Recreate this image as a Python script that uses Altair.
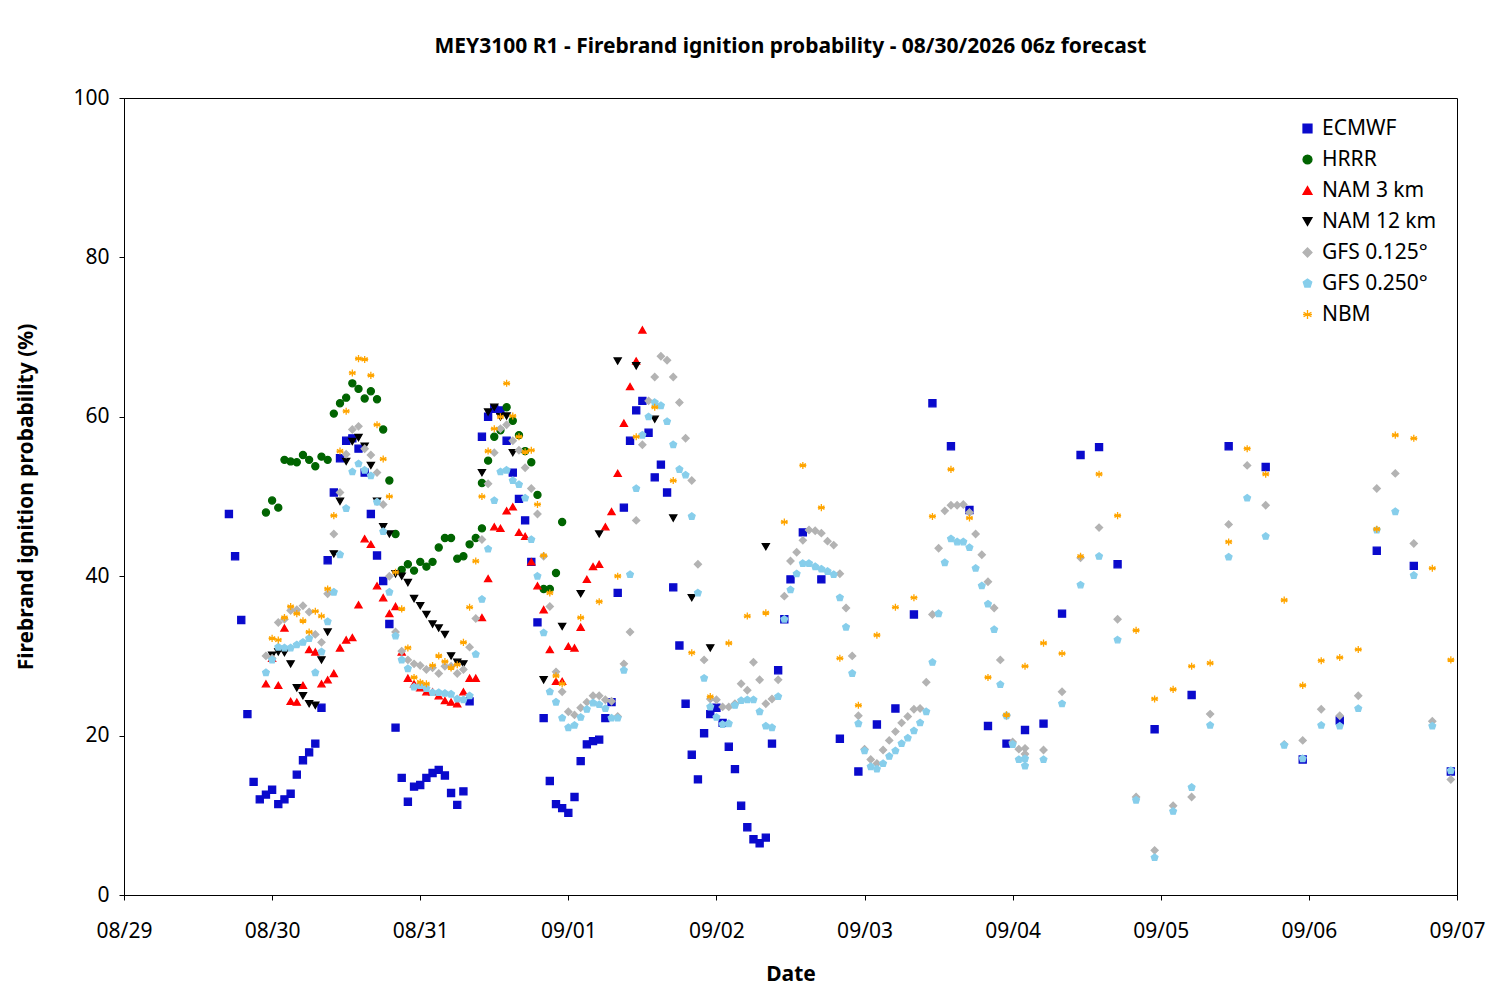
import pandas as pd
import altair as alt

# hourly series: (first hour after 08/29 00z, values); sparse series: hours on a 3-hourly grid
ecmwf_h1 = (17, [47.8, 42.5, 34.5, 22.7, 14.2, 12, 12.6, 13.2, 11.4, 12, 12.7, 15.1, 16.9, 17.9, 19, 23.5,
                 42, 50.5, 54.8, 57, 57.3, 56, 53, 47.8, 42.6, 39.4, 34, 21, 14.7, 11.7, 13.6, 13.8, 14.7,
                 15.3, 15.7, 15, 12.8, 11.3, 13, 24.3])
ecmwf_h2 = (58, [57.5, 60, 61, 60.8, 57, 53, 49.7, 47, 41.8, 34.2, 22.2, 14.3, 11.4, 10.9, 10.3, 12.3, 16.8,
                 18.9, 19.3, 19.5])
ecmwf_h3 = (78, [22.2, 24.2, 37.9, 48.6, 57, 60.8, 62, 58, 52.4, 54, 50.5, 38.6, 31.3, 24, 17.6, 14.5, 20.3,
                 22.7, 23.5, 21.6, 18.6, 15.8, 11.2, 8.5, 7, 6.5, 7.2, 19, 28.2, 34.6, 39.6])
ecmwf_sparse_hours = [110, 113, 116, 119, 122, 125, 128, 131, 134, 137, 140, 143, 146, 149, 152, 155, 158,
                      161, 167, 173, 179, 185, 191, 197, 203, 209, 215]
ecmwf_sparse = [45.5, 39.6, 19.6, 15.5, 21.4, 23.4, 35.2, 61.7, 56.3, 48.3, 21.2, 19, 20.7, 21.5, 35.3, 55.2,
                56.2, 41.5, 20.8, 25.1, 56.3, 53.7, 17, 21.9, 43.2, 41.3, 15.5]

hrrr_h1 = (23, [48, 49.5, 48.6, 54.6, 54.4, 54.3, 55.2, 54.6, 53.8, 55, 54.6, 60.4, 61.7, 62.4, 64.2, 63.5,
                62.3, 63.2, 62.2, 58.4, 52, 45.3, 40.8, 41.5, 40.7, 41.8, 41.2, 41.8, 43.6, 44.8, 44.8, 42.2,
                42.5, 44, 44.8, 46])
hrrr_h2 = (58, [51.7, 54.5, 57.5, 58.3, 61.2, 59.5, 57.7, 55.7, 54.3, 50.2, 38.4, 38.4, 40.4, 46.8])

nam3_h = (23, [26.5, 29.7, 26.3, 33.5, 24.3, 24.2, 26.3, 30.8, 30.5, 26.5, 27, 27.8, 31, 32, 32.3, 36.4, 44.7,
               44, 38.8, 37.3, 35.3, 36.2, 30.5, 27.2, 26.5, 26, 25.5, 25.5, 25, 24.4, 24.2, 24, 25.5, 27.2,
               27.2, 34.8, 39.7, 46.2, 46, 48.2, 48.7, 45.5, 45, 41.8, 38.8, 35.8, 30.8, 26.8, 26.8, 31.2, 31,
               33.6, 39.6, 41.2, 41.5, 46.2, 48.1, 52.9, 59.2, 63.8, 67, 70.9])

nam12_h1 = (24, [30.1, 30.5, 30.4, 29, 26, 25, 24, 23.8, 29.5, 33, 42.8, 49.4, 54.4, 56.9, 57.4, 56.3, 53.9,
                 49.4, 46.2, 45.3, 40.3, 40, 39.2, 37.2, 36.3, 35.2, 34, 33.5, 32.7, 30, 29.2, 29])
nam12_h2 = (58, [53, 60.6, 61.2, 60, 60.1, 55.5])
nam12_sparse_hours = [68, 71, 74, 77, 80, 83, 86, 89, 92, 95, 104]
nam12_sparse = [27, 33.7, 37.8, 45.3, 67, 66.4, 59.7, 47.3, 37.3, 31, 43.7]

gfs125_h = (23, [30, 29.7, 34.2, 34.6, 35.7, 35.8, 36.3, 35.5, 32.7, 31.7, 37.8, 45.3, 50.5, 55.3, 58.4, 58.8,
                 56, 55.2, 53, 49, 40, 33, 30.6, 29.5, 29, 28.8, 28.3, 28.5, 27.8, 28.7, 28.7, 27.8, 28.3,
                 31.1, 34.7, 44.6, 51.6, 55.5, 58.5, 59, 57, 55.8, 53.6, 51, 47.8, 42.5, 36.2, 28, 25.5, 23,
                 22.6, 23.5, 24.2, 25, 25, 24.5, 24.3, 22.4, 29, 33, 47, 56.5, 62, 65, 67.6, 67.1, 65, 61.8,
                 57.3, 52, 41.5, 29.5, 24.6, 24.5, 23.6, 23.6, 24, 26.5, 25.7, 29.2, 27, 24, 24.6, 27, 37.5,
                 41.9, 43, 44.5, 45.8, 45.7, 45.4, 44.4, 43.9, 40.3, 36, 30, 22.5, 18.3, 17, 16.5, 18.2, 19.4,
                 20.5, 21.6, 22.4, 23.3, 23.4, 26.7, 35.2, 43.5, 48.2, 48.9, 48.9, 49, 48, 45.3, 42.7, 39.3,
                 36, 29.5, 22.5, 19.2, 18.3, 17.7])
gfs250_h = (23, [27.9, 29.5, 31.1, 31, 31, 31.4, 31.7, 32.2, 27.9, 30.5, 34.3, 38, 42.7, 48.5, 53.1, 54.1,
                 53.3, 52.6, 49.3, 45.6, 38, 32.5, 29.5, 28.4, 26.1, 26.3, 25.9, 25.4, 25.4, 25.3, 25.2, 24.6,
                 24.5, 25, 30.2, 37.1, 43.4, 49.5, 53.1, 53.3, 52, 51.5, 49.8, 44.6, 40, 32.9, 25.5, 24.2,
                 22.2, 21, 21.3, 22.3, 23.3, 24.1, 23.9, 23.4, 22.2, 22.2, 28.2, 40.2, 51, 57.7, 60, 61.8,
                 61.4, 59.4, 56.5, 53.4, 52.7, 47.5, 37.9, 27.2, 23.6, 22.3, 21.4, 21.5, 23.8, 24.4, 24.5,
                 24.5, 23, 21.2, 21, 24.9, 34.6, 38.3, 40.3, 41.6, 41.6, 41.2, 40.9, 40.6, 40.2, 37.3, 33.6,
                 27.8, 21.5, 18.1, 16.1, 15.8, 16.5, 17.4, 18.1, 19, 19.7, 20.6, 21.6, 23, 29.2, 35.3, 41.7,
                 44.7, 44.3, 44.3, 43.6, 41, 38.8, 36.5, 33.3, 26.4, 22.5, 18.9, 17, 16.2])
gfs_sparse_hours = list(range(146, 216, 3))
gfs125_sparse = [18.4, 18.2, 25.5, 42.3, 46.1, 34.6, 12.3, 5.6, 11.2, 12.3, 22.7, 46.5, 53.9, 48.9, 18.9, 19.4,
                 23.3, 22.5, 25, 51, 52.9, 44.1, 21.8, 14.5]
gfs250_sparse = [17.1, 17, 24, 38.9, 42.5, 32, 11.9, 4.7, 10.5, 13.5, 21.3, 42.4, 49.8, 45, 18.8, 17.1, 21.3,
                 21.2, 23.4, 45.8, 48.1, 40.1, 21.2, 15.6]

nbm_h = (24, [32.2, 32, 34.8, 36.2, 35.3, 34.4, 33, 35.6, 35, 38.4, 47.6, 55.7, 60.7, 65.5, 67.3, 67.2, 65.2,
              59, 54.7, 50, 40.5, 35.9, 31, 27.3, 26.7, 26.5, 28.8, 30, 29.3, 28.5, 28.9, 31.7, 36.1, 41.9,
              50, 55.7, 58.5, 60, 64.2, 60.1, 57.5, 55.6, 55.8, 49, 42.6, 37.9, 27.5])
nbm_sparse_hours = list(range(71, 216, 3))
nbm_sparse = [26.5, 34.8, 36.8, 40, 57.5, 61.2, 52, 30.4, 24.9, 31.6, 35, 35.4, 46.8, 53.9, 48.6, 29.7, 23.8,
              32.6, 36.1, 37.3, 47.5, 53.4, 47.3, 27.3, 22.6, 28.7, 31.6, 30.3, 42.5, 52.8, 47.6, 33.2, 24.6,
              25.8, 28.7, 29.1, 44.3, 56, 52.8, 37, 26.3, 29.4, 29.8, 30.8, 45.9, 57.7, 57.3, 41, 29.5]

models = ["ECMWF", "HRRR", "NAM 3 km", "NAM 12 km", "GFS 0.125°", "GFS 0.250°", "NBM"]
colors = ["#0a0acc", "#006400", "#ff0000", "#000000", "#b3b3b3", "#87ceeb", "#ffa500"]
pentagon = "M0,-1L0.95,-0.31L0.59,0.81L-0.59,0.81L-0.95,-0.31Z"
asterisk = "M0,-1L0,1M-0.87,-0.5L0.87,0.5M-0.87,0.5L0.87,-0.5M-1,0L1,0"
shapes = ["square", "circle", "triangle-up", "triangle-down", "diamond", pentagon, asterisk]

rows = []
def add_hourly(name, series):
    start, vals = series
    rows.extend((name, start + i, v) for i, v in enumerate(vals))
def add_sparse(name, hours, vals):
    rows.extend((name, h, v) for h, v in zip(hours, vals))

add_hourly("ECMWF", ecmwf_h1); add_hourly("ECMWF", ecmwf_h2); add_hourly("ECMWF", ecmwf_h3)
add_sparse("ECMWF", ecmwf_sparse_hours, ecmwf_sparse)
add_hourly("HRRR", hrrr_h1); add_hourly("HRRR", hrrr_h2)
add_hourly("NAM 3 km", nam3_h)
add_hourly("NAM 12 km", nam12_h1); add_hourly("NAM 12 km", nam12_h2)
add_sparse("NAM 12 km", nam12_sparse_hours, nam12_sparse)
add_hourly("GFS 0.125°", gfs125_h); add_sparse("GFS 0.125°", gfs_sparse_hours, gfs125_sparse)
add_hourly("GFS 0.250°", gfs250_h); add_sparse("GFS 0.250°", gfs_sparse_hours, gfs250_sparse)
add_hourly("NBM", nbm_h); add_sparse("NBM", nbm_sparse_hours, nbm_sparse)

df = pd.DataFrame(rows, columns=["model", "hour", "prob"])
df["time"] = (pd.Timestamp("2026-08-29") + pd.to_timedelta(df["hour"], unit="h")).dt.strftime("%Y-%m-%dT%H:%M:%S")
df["order"] = df["model"].map({m: i for i, m in enumerate(models)})

font = "Noto Sans"
cscale = alt.Scale(domain=models, range=colors)
legend = alt.Legend(title=None, orient="top-right", labelFontSize=21, labelFont=font,
                    symbolSize=80, rowPadding=9, offset=20, labelLimit=300)

chart = alt.Chart(df).mark_point(size=50, strokeWidth=1.3, opacity=1).encode(
    x=alt.X("time:T", title="Date",
            scale=alt.Scale(domain=["2026-08-29T00:00:00", "2026-09-07T00:00:00"]),
            axis=alt.Axis(format="%m/%d", tickCount={"interval": "day", "step": 1}, labelFlush=False,
                          labelPadding=20, titlePadding=22)),
    y=alt.Y("prob:Q", title="Firebrand ignition probability (%)",
            scale=alt.Scale(domain=[0, 100]),
            axis=alt.Axis(values=[0, 20, 40, 60, 80, 100], labelPadding=10, titlePadding=36)),
    shape=alt.Shape("model:N", scale=alt.Scale(domain=models, range=shapes), legend=legend),
    fill=alt.Fill("model:N", scale=cscale, legend=legend),
    stroke=alt.Stroke("model:N", scale=cscale, legend=legend),
    order=alt.Order("order:Q"),
).properties(
    width=1333, height=797,
    autosize=alt.AutoSizeParams(type="none"),
    padding={"left": 116, "top": 90, "right": 35, "bottom": 97},
    title=alt.TitleParams("MEY3100 R1 - Firebrand ignition probability - 08/30/2026 06z forecast",
                          font=font, fontSize=21, fontWeight="bold", offset=30),
).configure_view(stroke="black", strokeWidth=1).configure_axis(
    grid=False, labelFont=font, titleFont=font, labelFontSize=21, titleFontSize=21,
    titleFontWeight="bold", domainColor="black", tickColor="black", labelColor="black",
).configure_legend(symbolStrokeWidth=1.3)

chart.save("out.html", embed_options={"renderer": "svg", "actions": False})
